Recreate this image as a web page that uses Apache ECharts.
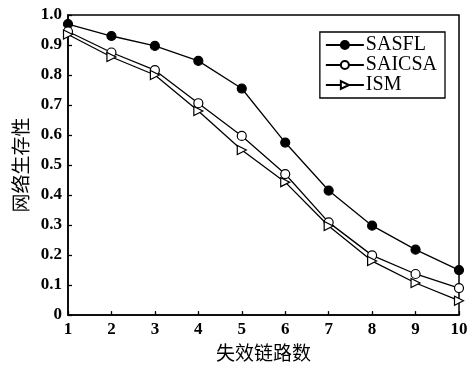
<!DOCTYPE html>
<html><head><meta charset="utf-8">
<script src="https://cdn.jsdelivr.net/npm/echarts@6/dist/echarts.min.js"></script>
<style>html,body{margin:0;padding:0;background:#fff}#c{width:472px;height:367px}</style>
</head><body><div id="c"></div>
<script>
const categories = ['1','2','3','4','5','6','7','8','9','10'];
const sasfl  = [0.97, 0.93, 0.897, 0.847, 0.755, 0.575, 0.415, 0.298, 0.218, 0.15];
const saicsa = [0.945, 0.875, 0.816, 0.706, 0.597, 0.47, 0.309, 0.199, 0.137, 0.09];
const ism    = [0.935, 0.86, 0.80, 0.68, 0.55, 0.443, 0.297, 0.18, 0.107, 0.048];
const yTicks = ['0','0.1','0.2','0.3','0.4','0.5','0.6','0.7','0.8','0.9','1.0'];

const serif = '"Liberation Serif", "DejaVu Serif", serif';
const cjk = '"Noto Sans CJK SC", sans-serif';
const chart = echarts.init(document.getElementById('c'));
const mk = (name, data, symbol, fill, rot) => ({
  name, type: 'line', data, symbol, symbolSize: 9, symbolRotate: rot || 0,
  showAllSymbol: true,
  lineStyle: {color: '#000', width: 1.3},
  itemStyle: {color: fill, borderColor: '#000', borderWidth: 1.2},
  emphasis: {disabled: true}, animation: false
});
chart.setOption({
  backgroundColor: '#fff',
  animation: false,
  grid: {left: 68, right: 13, top: 15, bottom: 44, show: true, borderColor: '#000', borderWidth: 1.5, containLabel: false},
  legend: {
    right: 27, top: 32, orient: 'vertical', itemGap: 0, itemWidth: 38, itemHeight: 10,
    borderColor: '#000', borderWidth: 1.3, padding: [3, 8, 3, 5],
    textStyle: {fontFamily: serif, fontSize: 20, lineHeight: 19, color: '#000', padding: [0,0,0,-3]},
    data: ['SASFL','SAICSA','ISM']
  },
  xAxis: {
    type: 'category', data: categories, boundaryGap: false,
    axisLine: {lineStyle: {color: '#000', width: 1.5}},
    axisTick: {inside: true, length: 4, lineStyle: {color: '#000', width: 1.3}},
    axisLabel: {fontFamily: serif, fontSize: 17, color: '#000', margin: 6, fontWeight: 'bold'},
    name: '失效链路数', nameLocation: 'middle', nameGap: 26,
    nameTextStyle: {fontFamily: cjk, fontSize: 19, color: '#000'}
  },
  yAxis: {
    type: 'value', min: 0, max: 1, interval: 0.1,
    splitLine: {show: false},
    axisLine: {show: true, lineStyle: {color: '#000', width: 1.5}},
    axisTick: {show: true, inside: true, length: 4, lineStyle: {color: '#000', width: 1.3}},
    axisLabel: {fontFamily: serif, fontSize: 17, color: '#000', margin: 6, fontWeight: 'bold',
      formatter: v => yTicks[Math.round(v * 10)]},
    name: '网络生存性', nameLocation: 'middle', nameGap: 38, nameRotate: 90,
    nameTextStyle: {fontFamily: cjk, fontSize: 19, color: '#000'}
  },
  series: [
    mk('SASFL', sasfl, 'circle', '#000'),
    mk('SAICSA', saicsa, 'circle', '#fff'),
    mk('ISM', ism, 'triangle', '#fff', -90)
  ]
});
</script></body></html>
